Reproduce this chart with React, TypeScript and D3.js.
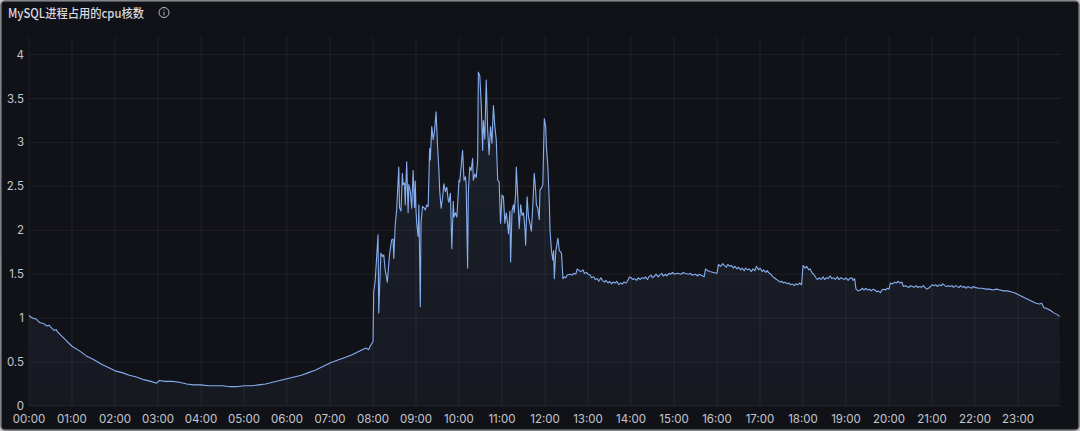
import React from "react";
import * as d3 from "d3";

const chartTitle = "MySQL进程占用的cpu核数";
const yTicks = [0, 0.5, 1, 1.5, 2, 2.5, 3, 3.5, 4];
const xTickHours = [0, 1, 2, 3, 4, 5, 6, 7, 8, 9, 10, 11, 12, 13, 14, 15, 16, 17, 18, 19, 20, 21, 22, 23];

// [minute of day, cpu cores]
const nightCpu: [number, number][] = [
  [0, 1.03], [3, 1.01], [5, 1.0], [10, 0.99], [15, 0.95], [20, 0.94], [25, 0.91], [28, 0.92], [30, 0.9], [35, 0.86], [38, 0.87], [40, 0.84],
  [50, 0.76], [60, 0.68], [70, 0.63], [80, 0.57], [90, 0.53], [100, 0.48], [110, 0.44], [120, 0.4],
  [130, 0.38], [140, 0.35], [150, 0.33], [160, 0.3], [170, 0.28], [178, 0.26], [182, 0.29], [190, 0.28],
  [200, 0.28], [210, 0.27], [220, 0.25], [230, 0.24], [240, 0.24], [250, 0.23], [260, 0.23], [270, 0.23],
  [280, 0.22], [290, 0.22], [300, 0.23], [310, 0.23], [320, 0.24], [330, 0.25], [340, 0.27], [350, 0.29],
  [360, 0.31], [370, 0.33], [380, 0.35], [390, 0.38], [400, 0.41], [410, 0.45], [420, 0.49], [430, 0.52],
  [440, 0.55], [450, 0.58], [460, 0.62], [470, 0.66], [474, 0.64], [476, 0.68], [479, 0.72],
];

const busyCpu: [number, number][] = [
  [480, 0.73], [481, 1.3], [483, 1.42], [487, 1.95], [488, 1.06], [491, 1.74], [493, 1.7], [495, 1.72],
  [497, 1.55], [500, 1.41], [503, 1.72], [506, 1.89], [508, 1.9], [509, 1.68], [511, 2.06], [513, 2.23],
  [516, 2.72], [517, 2.26], [519, 2.22], [521, 2.65], [522, 2.52], [524, 2.54], [525, 2.29], [527, 2.78],
  [529, 2.2], [530, 2.52], [532, 2.45], [534, 2.25], [536, 2.68], [538, 2.26], [539, 2.56], [540, 2.22],
  [541, 2.08], [543, 1.93], [544, 2.29], [546, 1.13], [547, 2.08], [549, 2.27], [551, 2.26],
  [553, 2.23], [555, 2.29], [557, 2.27], [559, 2.93], [560, 2.8], [562, 3.18], [564, 3.03], [566, 3.14],
  [568, 3.35], [570, 2.97], [572, 2.68], [573, 2.46], [575, 2.25], [577, 2.37], [579, 2.53], [581, 2.44],
  [583, 2.49], [585, 2.34], [586, 2.32], [588, 2.42], [590, 1.79], [592, 2.33], [593, 2.15], [595, 2.2],
  [597, 2.15], [600, 2.57], [601, 2.55], [603, 2.72], [605, 2.91], [607, 2.57], [609, 2.61], [610, 2.52],
  [612, 1.57], [613, 2.42], [615, 2.72], [617, 2.68], [619, 2.82], [620, 2.57], [622, 2.64], [624, 2.6],
  [626, 2.79], [627, 3.8], [629, 3.76], [631, 3.44], [633, 2.91], [634, 3.25], [636, 3.04], [638, 3.71],
  [640, 3.14], [642, 2.86], [644, 3.18], [646, 2.99], [648, 3.42], [650, 3.18],
  [652, 3.03], [654, 2.57], [656, 2.55], [658, 2.08], [660, 2.4], [662, 2.38], [664, 2.08], [666, 2.2],
  [668, 2.06], [669, 1.96], [671, 2.22], [672, 1.64], [674, 2.22], [676, 2.29], [677, 2.2], [679, 2.42],
  [680, 2.72], [682, 2.38], [684, 2.02], [686, 2.29], [688, 2.17], [690, 2.2], [692, 2.02], [693, 1.83],
  [695, 2.38], [697, 2.15], [699, 2.08], [701, 1.99], [703, 2.29], [705, 2.65], [707, 2.45], [708, 2.29],
  [710, 2.25], [712, 2.12], [713, 2.46], [715, 2.48], [717, 2.52], [718, 2.91], [719, 3.27], [721, 3.18],
  [722, 2.95], [724, 2.72], [726, 2.32], [727, 2.0], [729, 1.77], [731, 1.66], [732, 1.77], [733, 1.45],
  [735, 1.76], [738, 1.91], [740, 1.77], [741, 1.76], [743, 1.74], [745, 1.45], [747, 1.47], [749, 1.46],
  [751, 1.49],
];

const eveningCpu: [number, number][] = [
  [755, 1.5], [758, 1.49], [760, 1.51], [763, 1.5], [765, 1.56], [768, 1.54], [770, 1.53], [773, 1.55],
  [775, 1.51], [778, 1.52], [780, 1.5], [783, 1.49], [785, 1.46], [788, 1.47], [790, 1.44], [793, 1.45],
  [795, 1.42], [798, 1.46], [800, 1.43], [803, 1.41], [805, 1.43], [808, 1.4], [810, 1.42], [813, 1.39],
  [815, 1.41], [818, 1.4], [820, 1.42], [823, 1.38], [825, 1.4], [828, 1.39], [830, 1.41], [833, 1.4],
  [835, 1.42], [838, 1.47], [840, 1.46], [843, 1.44], [845, 1.45], [848, 1.43], [850, 1.46], [853, 1.44],
  [855, 1.46], [858, 1.45], [860, 1.47], [863, 1.44], [865, 1.47], [868, 1.49], [870, 1.46], [873, 1.48],
  [875, 1.5], [878, 1.47], [880, 1.49], [883, 1.51], [885, 1.48], [888, 1.5], [890, 1.48], [893, 1.51],
  [895, 1.5], [898, 1.52], [900, 1.5], [905, 1.51], [910, 1.5], [913, 1.52], [915, 1.51], [920, 1.5],
  [923, 1.51], [925, 1.49], [930, 1.5], [933, 1.48], [935, 1.5], [940, 1.48], [942, 1.47], [944, 1.56],
  [947, 1.54], [950, 1.53], [955, 1.52], [960, 1.51], [962, 1.61], [965, 1.59], [968, 1.62], [970, 1.6],
  [973, 1.58], [975, 1.61], [978, 1.59], [980, 1.6], [983, 1.57], [985, 1.59], [988, 1.56], [990, 1.58],
  [993, 1.55], [995, 1.57], [998, 1.54], [1000, 1.57], [1003, 1.55], [1005, 1.56], [1008, 1.53],
  [1010, 1.56], [1013, 1.54], [1015, 1.59], [1018, 1.55], [1020, 1.57], [1023, 1.53], [1025, 1.55],
  [1028, 1.52], [1030, 1.54], [1033, 1.51], [1035, 1.5], [1038, 1.47], [1040, 1.46], [1043, 1.44],
  [1045, 1.43], [1048, 1.41], [1050, 1.42], [1053, 1.4], [1055, 1.41], [1058, 1.39], [1060, 1.4],
  [1063, 1.38], [1065, 1.39], [1068, 1.37], [1070, 1.39], [1073, 1.38], [1075, 1.4], [1078, 1.38],
  [1080, 1.6], [1083, 1.57], [1085, 1.59], [1088, 1.55], [1090, 1.56], [1093, 1.51], [1095, 1.5],
  [1098, 1.46], [1100, 1.44], [1103, 1.46], [1105, 1.44], [1108, 1.47], [1110, 1.44], [1113, 1.46],
  [1115, 1.45], [1118, 1.48], [1120, 1.45], [1123, 1.46], [1125, 1.44], [1128, 1.47], [1130, 1.44],
  [1133, 1.46], [1135, 1.45], [1138, 1.44], [1140, 1.46], [1143, 1.43], [1145, 1.45], [1148, 1.46],
  [1150, 1.43], [1152, 1.45], [1154, 1.33], [1157, 1.31], [1160, 1.32], [1163, 1.34], [1165, 1.32],
  [1168, 1.34], [1170, 1.32], [1173, 1.33], [1175, 1.31], [1178, 1.33], [1180, 1.32], [1183, 1.3],
  [1185, 1.31], [1188, 1.29], [1190, 1.32], [1193, 1.33], [1195, 1.32], [1198, 1.34], [1200, 1.33],
  [1202, 1.4], [1205, 1.39], [1208, 1.41], [1210, 1.4], [1213, 1.42], [1215, 1.4], [1218, 1.41],
  [1220, 1.36], [1223, 1.37], [1225, 1.36], [1228, 1.35], [1230, 1.37], [1233, 1.36], [1235, 1.35],
  [1238, 1.37], [1240, 1.35], [1243, 1.36], [1245, 1.35], [1248, 1.37], [1250, 1.35], [1253, 1.33],
  [1255, 1.34], [1258, 1.36], [1260, 1.38], [1263, 1.37], [1265, 1.38], [1268, 1.36], [1270, 1.38],
  [1273, 1.37], [1275, 1.39], [1278, 1.37], [1280, 1.36], [1283, 1.37], [1285, 1.36], [1288, 1.37],
  [1290, 1.35], [1293, 1.37], [1295, 1.36], [1298, 1.35], [1300, 1.37], [1303, 1.35], [1305, 1.36],
  [1308, 1.34], [1310, 1.36], [1313, 1.35], [1315, 1.34], [1318, 1.36], [1320, 1.35], [1325, 1.34],
  [1330, 1.34], [1335, 1.33], [1340, 1.33], [1345, 1.32], [1350, 1.33], [1355, 1.32], [1360, 1.31],
  [1365, 1.31], [1370, 1.3], [1375, 1.29], [1380, 1.27], [1385, 1.25], [1390, 1.23], [1395, 1.21],
  [1400, 1.19], [1405, 1.17], [1410, 1.16], [1413, 1.17], [1416, 1.12], [1420, 1.11], [1425, 1.09],
  [1430, 1.06], [1435, 1.04], [1438, 1.02],
];

const W = 1080;
const H = 431;
const plot = { left: 29, right: 1061, top: 37, bottom: 406 };
const lineColor = "#86aef0";
const textColor = "#c4c6cf";
const font = "Inter, 'Noto Sans CJK SC', sans-serif";
const titleFont = "'Noto Sans CJK SC', Inter, sans-serif";

export default function App() {
  const data = [...nightCpu, ...busyCpu, ...eveningCpu];
  const x = d3.scaleLinear().domain([0, 1440]).range([plot.left, plot.right]);
  const y = d3.scaleLinear().domain([0, 4.2]).range([plot.bottom, plot.top]);
  const line = d3
    .line<[number, number]>()
    .x((d) => x(d[0]))
    .y((d) => y(d[1]));
  const area = d3
    .area<[number, number]>()
    .x((d) => x(d[0]))
    .y0(y(0))
    .y1((d) => y(d[1]));

  return (
    <div style={{ position: "absolute", left: 0, top: 0, width: W, height: H }}>
      <svg width={W} height={H} style={{ display: "block", background: "#c9c9cc" }}>
        <defs>
          <linearGradient id="fillGrad" x1="0" y1="0" x2="0" y2="1">
            <stop offset="0%" stopColor={lineColor} stopOpacity={0.09} />
            <stop offset="100%" stopColor={lineColor} stopOpacity={0.045} />
          </linearGradient>
        </defs>
        <rect x={1} y={1} width={W - 2} height={H - 2} rx={4} fill="#111217" stroke="#6c6d72" strokeWidth={1.5} />
        <text
          x={8}
          y={17.5}
          fill="#d8d9e0"
          fontSize={12.5}
          fontWeight={500}
          fontFamily={titleFont}
          textLength={136}
          lengthAdjust="spacingAndGlyphs"
        >
          {chartTitle}
        </text>
        <g transform="translate(164,12.5)">
          <circle r={5} fill="none" stroke="#b8bac2" strokeWidth={1} />
          <line x1={0} x2={0} y1={-0.5} y2={2.8} stroke="#b8bac2" strokeWidth={1} />
          <circle cx={0} cy={-2.4} r={0.6} fill="#b8bac2" />
        </g>
        <g>
          {yTicks.map((t) => (
            <line key={"h" + t} x1={plot.left} x2={plot.right} y1={y(t)} y2={y(t)} stroke="#ccccdc" strokeOpacity={0.08} />
          ))}
          {xTickHours.map((h) => (
            <line key={"v" + h} x1={x(h * 60)} x2={x(h * 60)} y1={plot.top} y2={plot.bottom} stroke="#ccccdc" strokeOpacity={0.08} />
          ))}
        </g>
        <path d={area(data) || ""} fill="url(#fillGrad)" />
        <path d={line(data) || ""} fill="none" stroke={lineColor} strokeWidth={1.1} strokeLinejoin="round" />
        <g fontFamily={font} fontSize={11.5} fill={textColor}>
          {yTicks.map((t) => (
            <text key={"yl" + t} x={24} y={y(t)} dy="0.35em" textAnchor="end">
              {String(t)}
            </text>
          ))}
          {xTickHours.map((h) => (
            <text key={"xl" + h} x={x(h * 60)} y={419} dy="0.35em" textAnchor="middle">
              {String(h).padStart(2, "0") + ":00"}
            </text>
          ))}
        </g>
      </svg>
    </div>
  );
}
